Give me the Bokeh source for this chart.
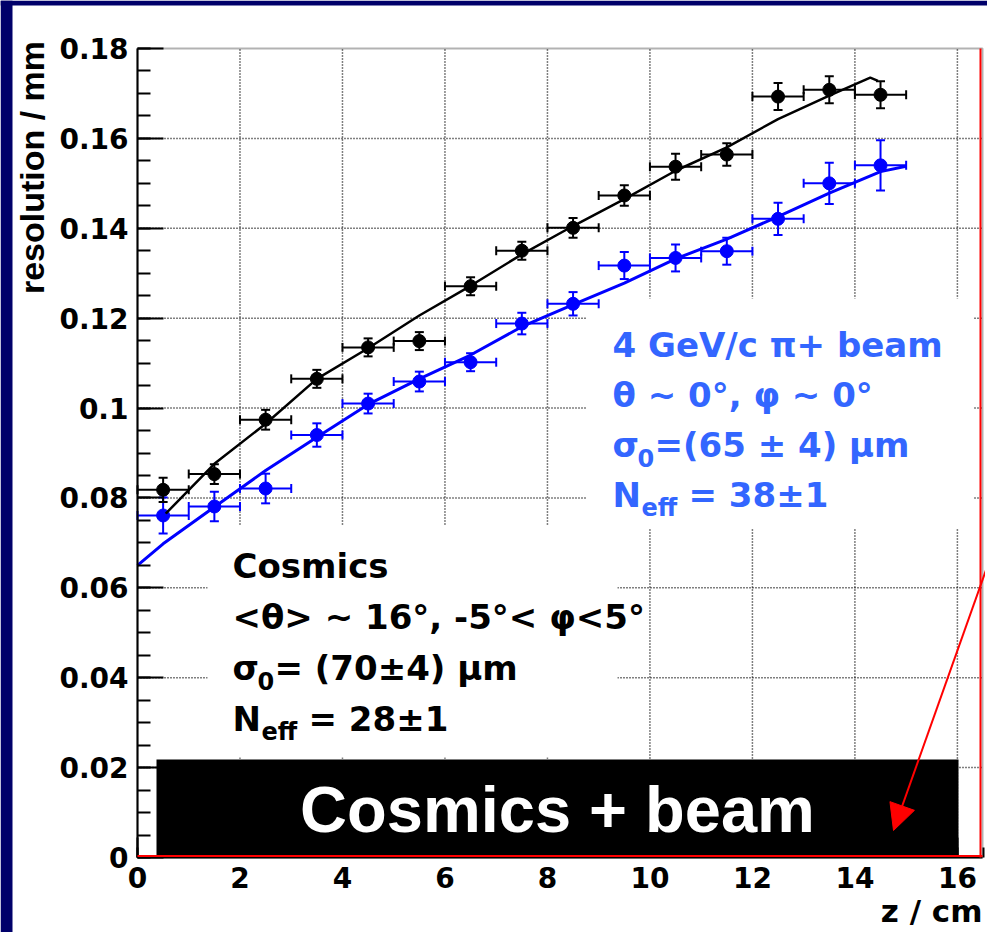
import numpy as np
from bokeh.plotting import figure
from bokeh.models import (Range1d, FixedTicker, Label, BoxAnnotation, Arrow, LinearAxis,
                          NormalHead, Whisker, TeeHead, ColumnDataSource)
from bokeh.embed import file_html
from bokeh.resources import INLINE

# ---------------- data ----------------
Z_BINS = [0.5, 1.5, 2.5, 3.5, 4.5, 5.5, 6.5, 7.5, 8.5, 9.5, 10.5, 11.5, 12.5, 13.5, 14.5]
BIN_HALF_WIDTH = 0.5

COSMICS_RES = [0.0818, 0.0853, 0.0974, 0.1065, 0.1135, 0.1149, 0.1271, 0.1350,
               0.1401, 0.1473, 0.1537, 0.1564, 0.1693, 0.1708, 0.1697]
COSMICS_ERR = [0.0027, 0.0022, 0.0022, 0.0020, 0.0020, 0.0020, 0.0020, 0.0020,
               0.0022, 0.0023, 0.0029, 0.0025, 0.0030, 0.0030, 0.0030]

BEAM_RES = [0.0761, 0.0781, 0.0821, 0.0940, 0.1010, 0.1059, 0.1102, 0.1188,
            0.1232, 0.1317, 0.1334, 0.1349, 0.1421, 0.1500, 0.1540]
BEAM_ERR = [0.0040, 0.0033, 0.0033, 0.0026, 0.0022, 0.0022, 0.0020, 0.0024,
            0.0026, 0.0030, 0.0030, 0.0030, 0.0036, 0.0046, 0.0056]

COSMICS_FIT_Z = [0.55, 1.5, 2.5, 3.5, 4.5, 5.5, 6.5, 7.5, 8.5, 9.5, 10.5, 11.5,
                 12.5, 13.5, 14.3, 14.45]
COSMICS_FIT = [0.0765, 0.0876, 0.0965, 0.1065, 0.1133, 0.1206, 0.1272, 0.1342,
               0.1405, 0.1465, 0.1528, 0.1580, 0.1643, 0.1695, 0.1735, 0.1728]

BEAM_FIT_Z = [0.0, 0.5, 1.5, 2.5, 3.5, 4.5, 5.5, 6.5, 7.5, 8.5, 9.5, 10.5, 11.5,
              12.5, 13.5, 14.5, 15.0]
BEAM_FIT = [0.0650, 0.0698, 0.0780, 0.0861, 0.0935, 0.1008, 0.1065, 0.1118,
            0.1181, 0.1230, 0.1278, 0.1332, 0.1376, 0.1426, 0.1478, 0.1526, 0.1538]

X_TICKS = [0, 2, 4, 6, 8, 10, 12, 14, 16]
X_TICK_LABELS = ["0", "2", "4", "6", "8", "10", "12", "14", "16"]
Y_TICKS = [0, 0.02, 0.04, 0.06, 0.08, 0.1, 0.12, 0.14, 0.16, 0.18]
Y_TICK_LABELS = ["0", "0.02", "0.04", "0.06", "0.08", "0.1", "0.12", "0.14", "0.16", "0.18"]

X_MAX = 16.49
Y_MAX = 0.18

# ---------------- layout (page pixels) ----------------
W, H = 987, 932
FL, FR, FT, FB = 137, 982, 48, 857   # where the chart frame sits on the page


def dx(px):
    return (px - FL) / (FR - FL) * X_MAX


def dy(py):
    return (FB - py) / (FB - FT) * Y_MAX


NAVY = "#00006a"
BLUE = "#0000ff"
TEXT_BLUE = "#3366ff"
SANS = "DejaVu Sans"
BASE_SHIFT = 0.37   # em offset so that labels sit on the wanted baseline

# The canvas is entirely frame; the axes are drawn at fixed locations inside it.
p = figure(width=W, height=H, output_backend="svg", toolbar_location=None,
           x_range=Range1d(dx(0), dx(W)), y_range=Range1d(dy(H), dy(0)),
           x_axis_location=None, y_axis_location=None,
           min_border=0, min_border_left=0, min_border_right=0,
           min_border_top=0, min_border_bottom=0)
p.border_fill_color = "white"
p.background_fill_color = "white"
p.outline_line_color = None
p.grid.visible = False

xax = LinearAxis(fixed_location=0, bounds=(0, X_MAX),
                 ticker=FixedTicker(ticks=X_TICKS, minor_ticks=list(np.arange(0, 16.6, 0.5))))
yax = LinearAxis(fixed_location=0, bounds=(0, Y_MAX),
                 ticker=FixedTicker(ticks=Y_TICKS,
                                    minor_ticks=list(np.round(np.arange(0, 0.1801, 0.005), 3))))
for ax in (xax, yax):
    ax.axis_line_width = 2
    ax.axis_line_color = "black"
    ax.major_tick_line_width = 2
    ax.minor_tick_line_width = 2
    ax.major_tick_out = 0
    ax.minor_tick_out = 0
    ax.major_label_text_font = SANS
    ax.major_label_text_font_style = "bold"
    ax.major_label_text_font_size = "28px"
    ax.major_label_text_color = "black"
xax.major_label_overrides = dict(zip(X_TICKS, X_TICK_LABELS))
xax.major_tick_in = 20
xax.minor_tick_in = 10
xax.major_label_standoff = 9
yax.major_label_overrides = dict(zip(Y_TICKS, Y_TICK_LABELS))
yax.major_tick_in = 26
yax.minor_tick_in = 13
yax.major_label_standoff = 9
p.add_layout(xax, "below")
p.add_layout(yax, "left")

# dotted grid at the major ticks
p.segment(x0=X_TICKS[1:], y0=0, x1=X_TICKS[1:], y1=Y_MAX, line_color="black",
          line_width=1.5, line_dash="1 2", line_alpha=1.0, level="image")
p.segment(x0=0, y0=Y_TICKS[1:-1], x1=X_MAX, y1=Y_TICKS[1:-1], line_color="black",
          line_width=1.5, line_dash="1 2", line_alpha=1.0, level="image")

# white backgrounds of the two text blocks (hide the grid)
p.add_layout(BoxAnnotation(left=dx(586), right=dx(973), top=dy(298), bottom=dy(528),
                           fill_color="white", fill_alpha=1, line_alpha=0, level="underlay"))
p.add_layout(BoxAnnotation(left=dx(207), right=dx(617), top=dy(525), bottom=dy(757),
                           fill_color="white", fill_alpha=1, line_alpha=0, level="underlay"))

# frame (top and right edges)
p.add_layout(BoxAnnotation(left=0, right=X_MAX, bottom=0, top=Y_MAX, fill_alpha=0,
                           line_color="black", line_width=2, level="guide"))


# ---------------- data drawing ----------------
def series(zs, vals, errs, color):
    src = ColumnDataSource(dict(
        z=zs, r=vals,
        lo=[v - e for v, e in zip(vals, errs)], hi=[v + e for v, e in zip(vals, errs)],
        zl=[z - BIN_HALF_WIDTH for z in zs], zh=[z + BIN_HALF_WIDTH for z in zs]))
    p.add_layout(Whisker(source=src, base="z", lower="lo", upper="hi", dimension="height",
                         line_color=color, line_width=2,
                         lower_head=TeeHead(size=9, line_color=color, line_width=2),
                         upper_head=TeeHead(size=9, line_color=color, line_width=2),
                         level="glyph"))
    p.add_layout(Whisker(source=src, base="r", lower="zl", upper="zh", dimension="width",
                         line_color=color, line_width=2,
                         lower_head=TeeHead(size=9, line_color=color, line_width=2),
                         upper_head=TeeHead(size=9, line_color=color, line_width=2),
                         level="glyph"))
    p.scatter("z", "r", source=src, size=13, fill_color=color, line_color=color)


p.line(BEAM_FIT_Z, BEAM_FIT, line_color=BLUE, line_width=3)
series(Z_BINS, BEAM_RES, BEAM_ERR, BLUE)
p.line(COSMICS_FIT_Z, COSMICS_FIT, line_color="black", line_width=2.5)
series(Z_BINS, COSMICS_RES, COSMICS_ERR, "black")


# ---------------- texts ----------------
def lab(px, py, text, size, color, font=SANS, align="left", baseline="alphabetic",
        angle=0.0, level="annotation", style="bold"):
    if baseline == "alphabetic":
        py = py - BASE_SHIFT * size
    p.add_layout(Label(x=dx(px), y=dy(py), text=text, text_font=font,
                       text_font_size=f"{size}px", text_font_style=style,
                       text_color=color, text_align=align, text_baseline=baseline,
                       angle=angle, level=level))


def block(x0, baselines, color, l1, l2, l3, l4):
    size, sub = 34, 24
    lab(x0, baselines[0], l1, size, color)
    lab(x0, baselines[1], l2, size, color)
    lab(x0, baselines[2], "σ", size, color)
    lab(x0 + 25, baselines[2] + 9, "0", sub, color)
    lab(x0 + 42, baselines[2], l3, size, color)
    lab(x0, baselines[3], "N", size, color)
    lab(x0 + 29, baselines[3] + 9, "eff", sub, color)
    lab(x0 + 76, baselines[3], l4, size, color)


block(612, [357, 407, 457, 507], TEXT_BLUE,
      "4 GeV/c π+ beam", "θ ~ 0°, φ ~ 0°", "=(65 ± 4) μm", "= 38±1")
block(232, [578, 629, 680, 731], "black",
      "Cosmics", "<θ> ~ 16°, -5°< φ<5°", "= (70±4) μm", "= 28±1")

# axis titles
lab(31, 167, "resolution / mm", 34, "black", font="Liberation Sans",
    align="center", baseline="middle", angle=np.pi / 2)
lab(982, 922, "z / cm", 31, "black", align="right")

# ---------------- slide overlays ----------------
p.add_layout(BoxAnnotation(left=dx(156), right=dx(958), top=dy(759), bottom=dy(855),
                           fill_color="black", fill_alpha=1, line_alpha=0, level="overlay"))
p.add_layout(BoxAnnotation(left=0, right=X_MAX, top=dy(854.5), bottom=dy(856.5),
                           fill_color="red", fill_alpha=1, line_alpha=0, level="overlay"))
p.add_layout(BoxAnnotation(left=dx(979), right=dx(981), top=Y_MAX, bottom=0,
                           fill_color="red", fill_alpha=1, line_alpha=0, level="overlay"))
lab(557, 833, "Cosmics + beam", 65, "white", font="Liberation Sans", align="center",
    level="overlay")
p.add_layout(Arrow(x_start=dx(996), y_start=dy(540), x_end=dx(893), y_end=dy(830),
                   line_color="red", line_width=2, level="overlay",
                   end=NormalHead(size=26, fill_color="red", line_color="red")))

# white page edge on the right and at the bottom
p.add_layout(BoxAnnotation(left=dx(984.5), right=dx(W), top=dy(0), bottom=dy(H),
                           fill_color="white", fill_alpha=1, line_alpha=0, line_width=0,
                           level="overlay"))
p.add_layout(BoxAnnotation(left=dx(0), right=dx(W), top=dy(929.5), bottom=dy(H),
                           fill_color="white", fill_alpha=1, line_alpha=0, line_width=0,
                           level="overlay"))

# navy slide border (left and top)
p.add_layout(BoxAnnotation(left=dx(0), right=dx(12), top=dy(0), bottom=dy(H),
                           fill_color=NAVY, fill_alpha=1, line_alpha=0, line_width=0,
                           level="overlay"))
p.add_layout(BoxAnnotation(left=dx(0), right=dx(W), top=dy(0), bottom=dy(5),
                           fill_color=NAVY, fill_alpha=1, line_alpha=0, line_width=0,
                           level="overlay"))

open("out.html", "w").write(file_html(p, INLINE))
